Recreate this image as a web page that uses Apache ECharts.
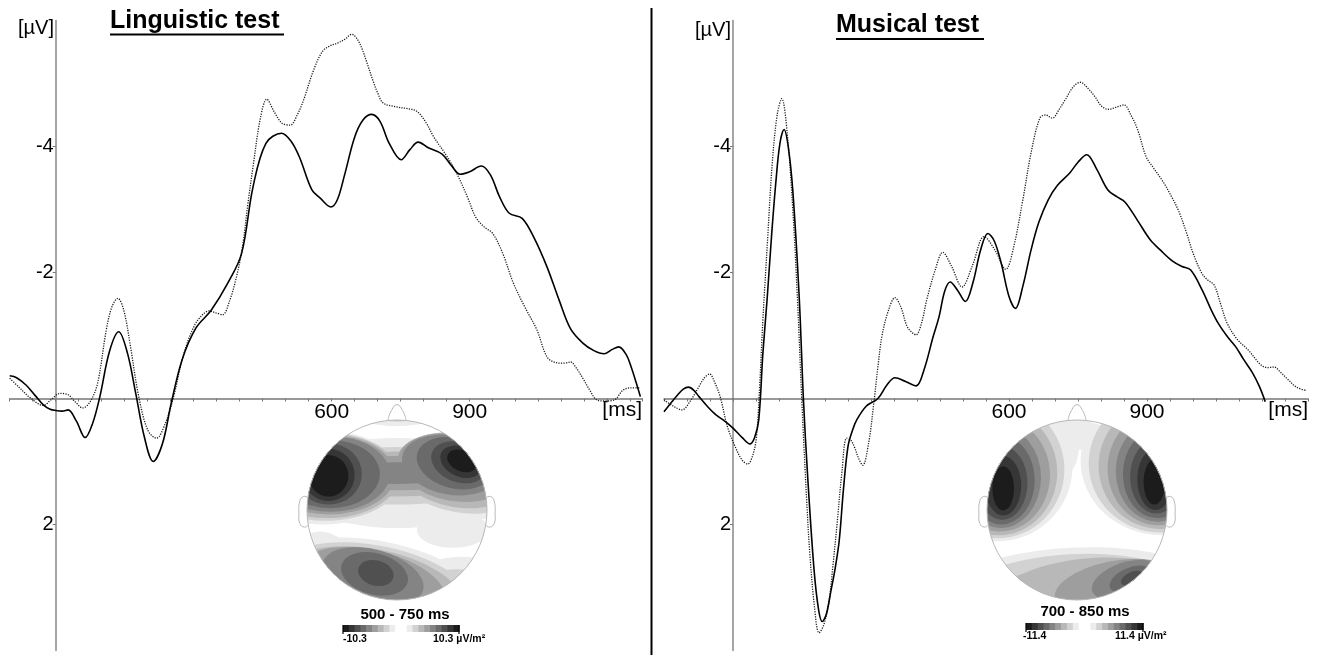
<!DOCTYPE html>
<html><head><meta charset="utf-8">
<script src="https://cdn.jsdelivr.net/npm/echarts@6/dist/echarts.min.js"></script>
<style>html,body{margin:0;padding:0;background:#fff}#c{width:1328px;height:655px}</style>
</head><body><div id="c"></div>
<script>
// ---------- data ----------
const X_LABELS = [600, 900];
const Y_LABELS = [-4, -2, 2];

const LING_SOLID = [[-100,-0.36],[-85,-0.33],[-64,-0.21],[-45,-0.05],[-27,0.10],[-12,0.17],[0,0.19],[14,0.20],[27,0.18],[45,0.36],[64,0.62],[80,0.40],[96,-0.03],[117,-0.75],[137,-1.06],[156,-0.72],[174,-0.08],[193,0.62],[212,1.00],[232,0.72],[251,0.08],[275,-0.62],[305,-1.12],[338,-1.40],[374,-1.83],[404,-2.30],[429,-3.36],[457,-4.05],[491,-4.21],[512,-4.08],[530,-3.83],[557,-3.31],[575,-3.18],[598,-3.04],[612,-3.15],[628,-3.55],[650,-4.15],[668,-4.42],[687,-4.51],[705,-4.40],[725,-4.05],[751,-3.79],[770,-3.95],[788,-4.07],[810,-3.98],[840,-3.88],[860,-3.70],[879,-3.56],[900,-3.60],[925,-3.69],[945,-3.55],[965,-3.20],[986,-2.94],[1014,-2.86],[1040,-2.55],[1068,-2.09],[1095,-1.55],[1119,-1.11],[1146,-0.88],[1170,-0.76],[1192,-0.71],[1210,-0.78],[1224,-0.82],[1240,-0.70],[1251,-0.50],[1262,-0.25],[1271,-0.03]];

const LING_DOTTED = [[-100,-0.32],[-80,-0.18],[-55,-0.01],[-27,0.11],[-10,0.02],[9,-0.08],[27,-0.06],[42,0.05],[59,0.15],[75,0.05],[91,-0.24],[110,-1.09],[122,-1.45],[135,-1.59],[148,-1.40],[162,-0.85],[180,-0.05],[200,0.50],[219,0.63],[238,0.40],[256,-0.02],[278,-0.70],[301,-1.15],[318,-1.32],[333,-1.39],[348,-1.36],[363,-1.33],[378,-1.55],[393,-1.93],[406,-2.41],[418,-3.10],[429,-3.68],[445,-4.45],[459,-4.75],[475,-4.55],[492,-4.37],[510,-4.34],[525,-4.50],[539,-4.74],[560,-5.20],[580,-5.51],[597,-5.60],[612,-5.64],[628,-5.70],[644,-5.78],[656,-5.70],[667,-5.53],[678,-5.30],[689,-5.06],[700,-4.85],[712,-4.69],[740,-4.63],[765,-4.60],[785,-4.56],[805,-4.38],[822,-4.15],[850,-3.85],[872,-3.57],[895,-3.20],[913,-2.88],[932,-2.72],[950,-2.62],[972,-2.30],[995,-1.83],[1020,-1.45],[1046,-1.09],[1068,-0.66],[1087,-0.57],[1105,-0.56],[1119,-0.58],[1133,-0.47],[1146,-0.32],[1162,-0.12],[1176,0.02],[1195,0.04],[1215,0.02],[1233,-0.13],[1250,-0.17],[1270,-0.17]];

const MUS_SOLID = [[-150,0.21],[-135,0.07],[-120,-0.06],[-108,-0.15],[-97,-0.18],[-85,-0.13],[-74,-0.03],[-55,0.13],[-37,0.26],[-18,0.36],[0,0.47],[20,0.62],[37,0.72],[47,0.62],[56,0.34],[65,-0.72],[74,-1.56],[84,-2.60],[93,-3.42],[102,-4.05],[111,-4.27],[120,-4.00],[130,-3.30],[144,-1.60],[153,0.00],[162,1.20],[176,2.70],[186,3.35],[194,3.54],[203,3.42],[213,3.05],[222,2.70],[231,2.25],[240,1.45],[250,0.76],[260,0.50],[269,0.34],[290,0.12],[315,0.00],[335,-0.22],[352,-0.33],[375,-0.27],[398,-0.20],[415,-0.45],[435,-0.98],[448,-1.30],[460,-1.70],[472,-1.85],[488,-1.72],[505,-1.54],[522,-1.85],[538,-2.35],[554,-2.62],[568,-2.50],[583,-2.15],[600,-1.62],[614,-1.43],[630,-1.78],[648,-2.36],[665,-2.80],[685,-3.15],[705,-3.38],[731,-3.57],[750,-3.75],[769,-3.87],[790,-3.65],[815,-3.31],[835,-3.20],[852,-3.12],[880,-2.82],[907,-2.52],[930,-2.35],[954,-2.19],[975,-2.10],[995,-2.04],[1020,-1.72],[1040,-1.40],[1056,-1.18],[1075,-0.98],[1093,-0.82],[1110,-0.62],[1130,-0.40],[1145,-0.18],[1157,0.05]];

const MUS_DOTTED = [[-150,0.02],[-130,0.12],[-111,0.18],[-92,0.03],[-74,-0.19],[-62,-0.33],[-51,-0.39],[-40,-0.26],[-28,-0.03],[-12,0.45],[5,0.77],[20,0.98],[32,1.04],[43,0.90],[51,0.61],[58,-0.20],[65,-1.25],[75,-2.50],[85,-3.70],[96,-4.50],[106,-4.76],[118,-4.20],[130,-3.00],[140,-1.60],[150,0.10],[160,1.60],[167,2.46],[177,3.30],[187,3.72],[197,3.60],[208,3.25],[218,2.60],[227,1.93],[237,1.15],[247,0.63],[256,0.66],[264,0.77],[273,0.95],[282,1.06],[295,0.70],[306,0.08],[315,-0.50],[324,-1.00],[338,-1.40],[352,-1.60],[365,-1.45],[378,-1.15],[389,-1.05],[398,-1.01],[410,-1.20],[421,-1.56],[440,-2.05],[456,-2.32],[475,-2.10],[498,-1.77],[520,-2.10],[546,-2.57],[570,-2.35],[593,-2.05],[610,-2.40],[630,-3.15],[648,-3.90],[667,-4.45],[680,-4.50],[694,-4.45],[710,-4.60],[722,-4.74],[740,-4.95],[755,-5.02],[772,-4.92],[787,-4.79],[800,-4.65],[815,-4.59],[832,-4.62],[850,-4.66],[865,-4.50],[880,-4.26],[898,-3.84],[915,-3.65],[935,-3.44],[950,-3.25],[968,-2.99],[985,-2.65],[1000,-2.31],[1019,-1.99],[1032,-1.88],[1046,-1.80],[1060,-1.50],[1074,-1.20],[1095,-0.95],[1120,-0.77],[1148,-0.53],[1163,-0.49],[1176,-0.50],[1190,-0.42],[1204,-0.32],[1225,-0.18],[1245,-0.13]];

// topographic maps: contour bands as [greyLevel, cx, cy, rx, ry, rotationDeg] in head units (radius 1), painted in order
const LING_MAP = [
  [9,0,0,1,1,0],
  [8,0,1.18,0.6,0.25,0],[8,0,0.3,1.2,0.5,0],[8,-0.82,0.36,0.9,0.52,0],[8,0.76,0.38,0.8,0.47,-10],[8,0.62,-0.22,0.4,0.2,0],
  [8,-0.2,-0.95,1.3,0.6,-12],[8,-0.85,-0.5,0.3,0.26,0],[8,0.6,-0.95,0.7,0.42,10],
  [7,0,1.2,0.35,0.22,0],[7,0,0.38,1.15,0.32,0],[7,-0.8,0.37,0.85,0.49,0],[7,0.72,0.41,0.75,0.44,-10],[7,-0.22,-0.92,1.15,0.52,-12],[7,0.55,-1.0,0.6,0.33,10],
  [6,0,0.4,1.1,0.25,0],[6,-0.78,0.38,0.8,0.47,0],[6,0.68,0.44,0.7,0.41,-10],[6,-0.24,-0.88,1.0,0.44,-12],[6,0.5,-1.05,0.5,0.25,10],
  [5,0,0.41,1.0,0.19,0],[5,-0.76,0.39,0.74,0.44,0],[5,0.64,0.47,0.64,0.37,-10],[5,-0.26,-0.82,0.82,0.37,-14],[5,0.45,-1.08,0.35,0.15,10],
  [4,0,0.41,0.9,0.12,0],[4,-0.74,0.4,0.66,0.42,0],[4,0.6,0.5,0.55,0.33,-10],[4,-0.27,-0.74,0.58,0.3,-15],
  [3,-0.74,0.4,0.55,0.38,0],[3,0.64,0.52,0.43,0.28,-15],[3,-0.25,-0.71,0.38,0.23,-15],
  [2,-0.76,0.4,0.37,0.34,0],[2,0.69,0.53,0.32,0.22,-20],[2,-0.235,-0.7,0.2,0.14,-15],
  [1,-0.76,0.39,0.29,0.29,0],[1,0.71,0.535,0.24,0.165,-25],
  [0,-0.76,0.38,0.22,0.23,0],[0,0.72,0.545,0.17,0.115,-25]
];
const MUS_MAP = [
  [9,0,0,1,1,0],
  [8,-0.89,0.48,0.84,0.83,0],[8,0.94,0.55,0.9,0.83,0],[8,-0.1,0.8,0.13,0.38,0],[8,0.05,0.97,0.2,0.3,0],[8,-0.05,-0.98,1.6,0.56,3],
  [9,0.3,1.1,0.3,0.16,-10],
  [7,-0.88,0.45,0.74,0.765,0],[7,0.93,0.52,0.8,0.77,0],[7,-0.05,-0.95,1.3,0.46,3],[7,-0.45,-0.82,0.55,0.22,0],
  [6,-0.87,0.42,0.65,0.7,0],[6,0.92,0.49,0.68,0.7,0],[6,0.1,-0.9,1.0,0.36,6],[6,-0.5,-0.84,0.3,0.13,0],
  [5,-0.86,0.39,0.56,0.63,0],[5,0.91,0.46,0.57,0.63,0],[5,0.4,-0.84,0.66,0.27,12],
  [4,-0.85,0.36,0.45,0.56,0],[4,0.9,0.43,0.47,0.56,0],[4,0.55,-0.78,0.4,0.2,18],
  [3,-0.84,0.33,0.37,0.49,0],[3,0.89,0.4,0.38,0.49,0],[3,0.6,-0.77,0.25,0.13,22],
  [2,-0.83,0.3,0.28,0.41,0],[2,0.88,0.37,0.29,0.41,0],[2,0.61,-0.76,0.13,0.07,25],
  [1,-0.82,0.27,0.2,0.33,0],[1,0.87,0.34,0.2,0.34,0],
  [0,-0.82,0.24,0.12,0.245,0],[0,0.86,0.31,0.12,0.25,0]
];
const HEAD_NOSE = [[-0.1,0.995],[-0.07,1.09],[0,1.17],[0.07,1.09],[0.1,0.995]];
const HEAD_EAR_L = [[-0.995,0.14],[-1.04,0.15],[-1.08,0.1],[-1.09,-0.05],[-1.08,-0.15],[-1.03,-0.19],[-0.99,-0.17]];
const HEAD_EAR_R = [[0.995,0.14],[1.04,0.15],[1.08,0.1],[1.09,-0.05],[1.08,-0.15],[1.03,-0.19],[0.99,-0.17]];
const CB_LEVELS = [0,1,2,3,4,5,6,7,8,9,9,8,7,6,5,4,3,2,1,0];
const GREYS = ['#1c1c1c','#363636','#505050','#6a6a6a','#848484','#9e9e9e','#b8b8b8','#d2d2d2','#ececec','#ffffff'];
const LING_TITLE = 'Linguistic test', MUS_TITLE = 'Musical test';
const LING_WINDOW = '500 - 750 ms', MUS_WINDOW = '700 - 850 ms';
const LING_RANGE = ['-10.3', '10.3 µV/m²'], MUS_RANGE = ['-11.4', '11.4 µV/m²'];

// ---------- chart ----------
const FF = "'Liberation Sans', Arial, sans-serif";
const chart = echarts.init(document.getElementById('c'), null, {renderer: 'canvas'});

function erpX(i, min, max, off) {
  return {
    gridIndex: i, type: 'value', min: min, max: max, interval: 50, position: 'bottom', offset: off,
    axisLine: {onZero: false, lineStyle: {color: '#777', width: 1.5}},
    axisTick: {show: true, length: 3, lineStyle: {color: '#777', width: 1}},
    axisLabel: {customValues: X_LABELS, formatter: v => (X_LABELS.indexOf(v) >= 0 ? String(v) : ''),
      color: '#000', fontSize: 21, fontFamily: FF, margin: 3},
    splitLine: {show: false}
  };
}
function erpY(i, off) {
  return {
    gridIndex: i, type: 'value', min: -6, max: 4, interval: 2, inverse: true, position: 'left', offset: off,
    axisLine: {onZero: false, lineStyle: {color: '#888', width: 1.5}},
    axisTick: {show: true, length: 3, customValues: Y_LABELS, lineStyle: {color: '#777'}},
    axisLabel: {customValues: Y_LABELS, formatter: v => (Y_LABELS.indexOf(v) >= 0 ? String(v) : ''),
      color: '#000', fontSize: 20, fontFamily: FF, margin: 2},
    splitLine: {show: false}
  };
}
function hidden(i, min, max) {
  return {gridIndex: i, type: 'value', min: min, max: max, show: false, splitLine: {show: false}};
}

function mapItem(params, api) {
  const lv = api.value(0);
  const c = api.coord([api.value(1), api.value(2)]);
  const s = api.size([api.value(3), api.value(4)]);
  const o = api.coord([0, 0]);
  const R = api.size([1, 1])[0];
  return {
    type: 'group',
    clipPath: {type: 'circle', shape: {cx: o[0], cy: o[1], r: R}},
    children: [{
      type: 'circle', shape: {cx: 0, cy: 0, r: s[0]},
      x: c[0], y: c[1], scaleX: 1, scaleY: s[1] / s[0],
      rotation: api.value(5) * Math.PI / 180,
      style: {fill: GREYS[lv]}
    }]
  };
}
function outlineItem(params, api) {
  const o = api.coord([0, 0]);
  const R = api.size([1, 1])[0];
  const pts = arr => arr.map(p => api.coord(p));
  const st = {stroke: '#b8b8b8', fill: null, lineWidth: 1};
  return {type: 'group', children: [
    {type: 'circle', shape: {cx: o[0], cy: o[1], r: R}, style: st},
    {type: 'polyline', shape: {points: pts(HEAD_NOSE), smooth: 0.5}, style: st},
    {type: 'polyline', shape: {points: pts(HEAD_EAR_L), smooth: 0.5}, style: st},
    {type: 'polyline', shape: {points: pts(HEAD_EAR_R), smooth: 0.5}, style: st}
  ]};
}
function cbItem(params, api) {
  const i = api.value(0), lv = api.value(1);
  const p = api.coord([i, 1]);
  const s = api.size([1, 1]);
  const ch = [{type: 'rect', shape: {x: p[0], y: p[1], width: s[0] + 0.6, height: s[1]}, style: {fill: GREYS[lv]}}];
  if (i === 0) ch.push({type: 'line', shape: {x1: p[0], y1: p[1], x2: p[0], y2: p[1] + s[1] + 2}, style: {stroke: '#000', lineWidth: 1.2}});
  if (i === CB_LEVELS.length - 1) ch.push({type: 'line', shape: {x1: p[0] + s[0], y1: p[1], x2: p[0] + s[0], y2: p[1] + s[1] + 2}, style: {stroke: '#000', lineWidth: 1.2}});
  return {type: 'group', children: ch};
}

const solidStyle = {color: '#000', width: 1.6};
const dotStyle = {color: '#1a1a1a', width: 1.3, type: [1.2, 1.3]};
function lineSeries(data, xi, style) {
  return {type: 'line', xAxisIndex: xi, yAxisIndex: xi, data: data, smooth: 0.35,
    showSymbol: false, symbol: 'none', lineStyle: style, silent: true, z: 3};
}
const cbData = CB_LEVELS.map((lv, i) => [i, lv]);

function txt(x, y, text, font, align, va) {
  return {type: 'text', x: x, y: y, silent: true,
    style: {text: text, font: font, fill: '#000', align: align, verticalAlign: va}};
}
function g(left, top, width, height) {
  return {left: left, top: top, width: width, height: height, containLabel: false, outerBoundsMode: 'none'};
}

chart.setOption({
  animation: false,
  backgroundColor: '#fff',
  grid: [
    g(9.7, 20.5, 632.5, 630),
    g(664, 20.5, 644, 630),
    g(307, 420, 180, 180),
    g(987, 420, 180, 180),
    g(343, 625, 116, 7),
    g(1026, 623, 117, 7)
  ],
  xAxis: [erpX(0, -100, 1275, -252), erpX(1, -150, 1250, -252), hidden(2, -1, 1), hidden(3, -1, 1), hidden(4, 0, 20), hidden(5, 0, 20)],
  yAxis: [erpY(0, -46), erpY(1, -69), hidden(2, -1, 1), hidden(3, -1, 1), hidden(4, 0, 1), hidden(5, 0, 1)],
  series: [
    lineSeries(LING_DOTTED, 0, dotStyle),
    lineSeries(LING_SOLID, 0, solidStyle),
    lineSeries(MUS_DOTTED, 1, dotStyle),
    lineSeries(MUS_SOLID, 1, solidStyle),
    {type: 'custom', xAxisIndex: 2, yAxisIndex: 2, data: LING_MAP, encode: {x: 1, y: 2}, renderItem: mapItem, clip: false, silent: true, z: 1},
    {type: 'custom', xAxisIndex: 2, yAxisIndex: 2, data: [[0, 0]], renderItem: outlineItem, clip: false, silent: true, z: 2},
    {type: 'custom', xAxisIndex: 3, yAxisIndex: 3, data: MUS_MAP, encode: {x: 1, y: 2}, renderItem: mapItem, clip: false, silent: true, z: 1},
    {type: 'custom', xAxisIndex: 3, yAxisIndex: 3, data: [[0, 0]], renderItem: outlineItem, clip: false, silent: true, z: 2},
    {type: 'custom', xAxisIndex: 4, yAxisIndex: 4, data: cbData, renderItem: cbItem, clip: false, silent: true},
    {type: 'custom', xAxisIndex: 5, yAxisIndex: 5, data: cbData, renderItem: cbItem, clip: false, silent: true}
  ],
  graphic: [
    txt(110, 21, LING_TITLE, 'bold 25px ' + FF, 'left', 'middle'),
    {type: 'line', silent: true, shape: {x1: 110, y1: 34.5, x2: 284, y2: 34.5}, style: {stroke: '#000', lineWidth: 2}},
    txt(836, 25, MUS_TITLE, 'bold 25px ' + FF, 'left', 'middle'),
    {type: 'line', silent: true, shape: {x1: 836, y1: 39, x2: 984, y2: 39}, style: {stroke: '#000', lineWidth: 2}},
    txt(54, 28.5, '[µV]', '20px ' + FF, 'right', 'middle'),
    txt(731, 30.5, '[µV]', '20px ' + FF, 'right', 'middle'),
    txt(642, 400, '[ms]', '21px ' + FF, 'right', 'top'),
    txt(1308, 400, '[ms]', '21px ' + FF, 'right', 'top'),
    {type: 'line', silent: true, shape: {x1: 651.5, y1: 8, x2: 651.5, y2: 655}, style: {stroke: '#000', lineWidth: 2}},
    txt(405, 615, LING_WINDOW, 'bold 15px ' + FF, 'center', 'middle'),
    txt(1085, 611.5, MUS_WINDOW, 'bold 15px ' + FF, 'center', 'middle'),
    txt(343, 639.5, LING_RANGE[0], 'bold 10.5px ' + FF, 'left', 'middle'),
    txt(433, 639.5, LING_RANGE[1], 'bold 10.5px ' + FF, 'left', 'middle'),
    txt(1023, 636, MUS_RANGE[0], 'bold 10.5px ' + FF, 'left', 'middle'),
    txt(1115, 636, MUS_RANGE[1], 'bold 10.5px ' + FF, 'left', 'middle')
  ]
});
</script></body></html>
